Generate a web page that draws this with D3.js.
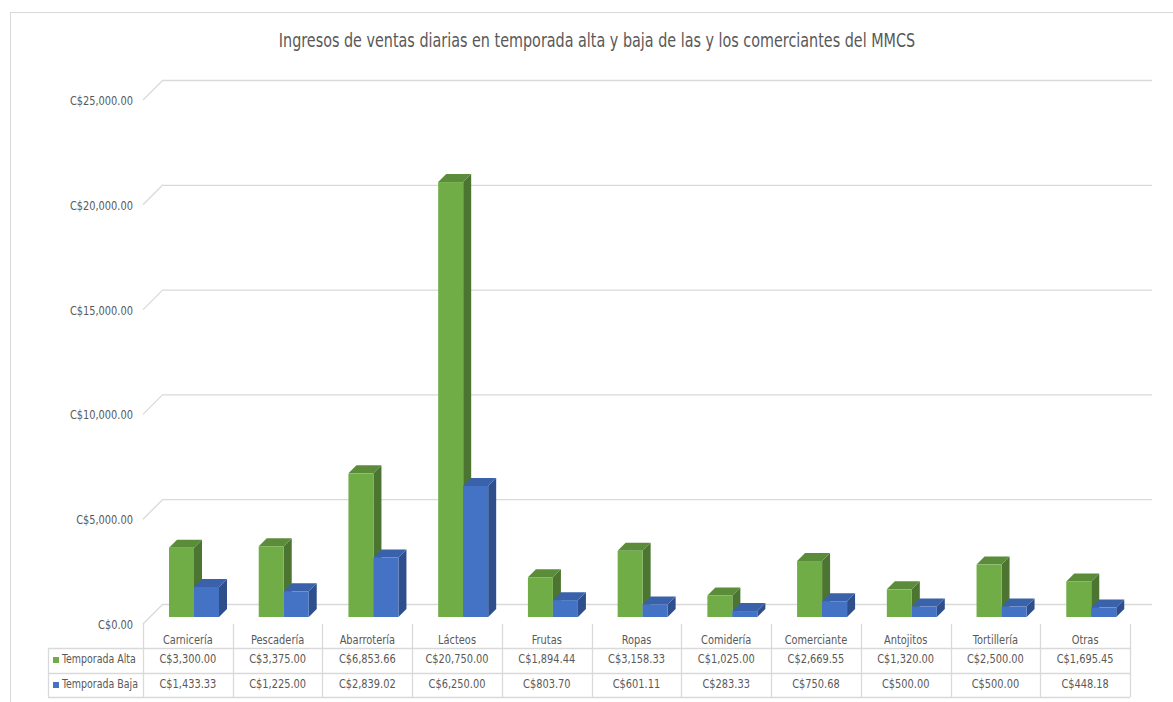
<!DOCTYPE html>
<html>
<head>
<meta charset="utf-8">
<script src="https://cdn.jsdelivr.net/npm/d3@7"></script>
<style>
  html, body { margin: 0; padding: 0; background: #fff; }
  svg { display: block; font-family: "DejaVu Sans Condensed", "DejaVu Sans", sans-serif; }
</style>
</head>
<body>
<svg id="chart" width="1173" height="702"></svg>
<script>
// Daily sales income per trade, high and low season
const categories = ["Carnicería", "Pescadería", "Abarrotería", "Lácteos", "Frutas", "Ropas",
  "Comidería", "Comerciante", "Antojitos", "Tortillería", "Otras"];
const seriesNames = ["Temporada Alta", "Temporada Baja"];
const altaValues = [3300.00, 3375.00, 6853.66, 20750.00, 1894.44, 3158.33, 1025.00, 2669.55, 1320.00, 2500.00, 1695.45];
const bajaValues = [1433.33, 1225.00, 2839.02, 6250.00, 803.70, 601.11, 283.33, 750.68, 500.00, 500.00, 448.18];
const yTicks = [0, 5000, 10000, 15000, 20000, 25000];
const title = "Ingresos de ventas diarias en temporada alta y baja de las y los comerciantes del MMCS";

const colors = [
  { front: "#70ad47", side: "#4b7530", top: "#5b8c3a" },
  { front: "#4472c4", side: "#2e4f8c", top: "#3a62aa" }
];

const svg = d3.select("#chart");
const textColor = "#595959";
const gridColor = "#d9d9d9";
const money = v => "C$" + d3.format(",.2f")(v);

// plot geometry
const plotLeft = 143, plotRight = 1130;   // front edge of the floor / table columns
const wallDX = 20, wallDY = 20;           // depth of the side wall
const barDX = 8, barDY = 8;               // depth of each column
const barInset = 13;                      // columns sit this far in front of the back wall

const y = d3.scaleLinear().domain([0, 25000]).range([604, 80]);
const x = d3.scaleBand().domain(categories).range([plotLeft, plotRight]);

// chart frame
svg.append("rect")
  .attr("x", 10.5).attr("y", 12.5).attr("width", 1200).attr("height", 720)
  .attr("fill", "none").attr("stroke", gridColor);

// title
svg.append("text")
  .attr("class", "lbl")
  .attr("x", 597).attr("y", 47)
  .attr("text-anchor", "middle")
  .attr("fill", textColor)
  .attr("font-size", 19)
  .text(title);

// back wall gridlines + side wall diagonals
const grid = svg.append("g");
yTicks.forEach(t => {
  grid.append("line")
    .attr("x1", plotLeft + wallDX).attr("x2", plotRight + wallDX + 2)
    .attr("y1", y(t) + 0.5).attr("y2", y(t) + 0.5)
    .attr("stroke", gridColor).attr("stroke-width", 1.3);
  grid.append("line")
    .attr("x1", plotLeft).attr("y1", y(t) + wallDY)
    .attr("x2", plotLeft + wallDX).attr("y2", y(t))
    .attr("stroke", gridColor).attr("stroke-width", 1.3);
  grid.append("text")
    .attr("class", "lbl")
    .attr("x", plotLeft - 10).attr("y", y(t) + wallDY + 5)
    .attr("text-anchor", "end")
    .attr("fill", textColor)
    .attr("font-size", 13)
    .text(money(t));
});

// 3D columns
const barW = 25;
const barOffset = 26;
const bars = svg.append("g");
const yFront = v => y(v) + barInset;

function drawColumn(x0, v, c) {
  const x1 = x0 + barW;
  const yt = yFront(v);
  const yb = yFront(0);
  // side face
  bars.append("path")
    .attr("d", `M${x1},${yt}L${x1 + barDX},${yt - barDY}L${x1 + barDX},${yb - barDY}L${x1},${yb}Z`)
    .attr("fill", c.side);
  // top face
  bars.append("path")
    .attr("d", `M${x0},${yt}L${x1},${yt}L${x1 + barDX},${yt - barDY}L${x0 + barDX},${yt - barDY}Z`)
    .attr("fill", c.top);
  // front face
  bars.append("rect")
    .attr("x", x0).attr("y", yt)
    .attr("width", barW).attr("height", yb - yt)
    .attr("fill", c.front);
}

categories.forEach((cat, i) => {
  const left = x(cat) + barOffset;
  drawColumn(left, altaValues[i], colors[0]);
  drawColumn(left + barW, bajaValues[i], colors[1]);
});

// data table
const tableLeft = 48;
const rowTop = [624, 648, 673, 697];
const table = svg.append("g");
const lineStyle = sel => sel.attr("stroke", gridColor).attr("stroke-width", 1.3);

// horizontal rules
[648, 673, 697].forEach(ry => {
  table.append("line").attr("x1", tableLeft).attr("x2", plotRight)
    .attr("y1", ry + 0.5).attr("y2", ry + 0.5).call(lineStyle);
});
// vertical rules
table.append("line").attr("x1", tableLeft + 0.5).attr("x2", tableLeft + 0.5)
  .attr("y1", 648).attr("y2", 697).call(lineStyle);
categories.forEach(cat => {
  const cx = Math.round(x(cat)) + 0.5;
  table.append("line").attr("x1", cx).attr("x2", cx)
    .attr("y1", 624).attr("y2", 697).call(lineStyle);
});
table.append("line").attr("x1", plotRight + 0.5).attr("x2", plotRight + 0.5)
  .attr("y1", 624).attr("y2", 697).call(lineStyle);

// category row
categories.forEach(cat => {
  table.append("text")
    .attr("class", "lbl")
    .attr("x", x(cat) + x.bandwidth() / 2).attr("y", 644)
    .attr("text-anchor", "middle").attr("fill", textColor).attr("font-size", 13)
    .text(cat);
});

// value rows with legend keys
[altaValues, bajaValues].forEach((vals, r) => {
  const ry = rowTop[r + 1];
  table.append("rect")
    .attr("x", 53).attr("y", ry + 9).attr("width", 6).attr("height", 6)
    .attr("fill", colors[r].front);
  table.append("text")
    .attr("class", "lbl")
    .attr("x", 62).attr("y", ry + 15)
    .attr("fill", textColor).attr("font-size", 12.5)
    .text(seriesNames[r]);
  vals.forEach((v, i) => {
    table.append("text")
      .attr("class", "lbl")
      .attr("x", x(categories[i]) + x.bandwidth() / 2).attr("y", ry + 15)
      .attr("text-anchor", "middle").attr("fill", textColor).attr("font-size", 13)
      .text(money(v));
  });
});

// narrow every label horizontally for a condensed look
svg.selectAll("text.lbl").each(function () {
  const w = this.getComputedTextLength();
  d3.select(this).attr("textLength", w * 0.84).attr("lengthAdjust", "spacingAndGlyphs");
});
</script>
</body>
</html>
